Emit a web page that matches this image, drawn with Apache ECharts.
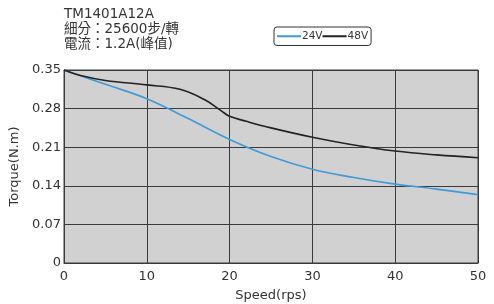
<!DOCTYPE html>
<html><head><meta charset="utf-8">
<script src="https://cdn.jsdelivr.net/npm/echarts@6/dist/echarts.min.js"></script>
<style>html,body{margin:0;padding:0;background:#fff}#c{width:494px;height:304px}</style>
</head><body><div id="c"></div>
<script>
const titleLines = ['TM1401A12A', '細分：25600步/轉', '電流：1.2A(峰值)'];
const seriesNames = ['24V', '48V'];
const xTicks = [0, 10, 20, 30, 40, 50];
const yTicks = ['0', '0.07', '0.14', '0.21', '0.28', '0.35'];
const speed24 = [0, 5, 10, 15, 20, 25, 30, 35, 40, 45, 50];
const torque24 = [0.35, 0.324, 0.298, 0.262, 0.224, 0.193, 0.170, 0.155, 0.143, 0.134, 0.124];
const speed48 = [0, 2, 5, 10, 14, 17, 19, 20, 22, 25, 30, 35, 40, 45, 50];
const torque48 = [0.35, 0.340, 0.331, 0.323, 0.315, 0.296, 0.276, 0.266, 0.257, 0.245, 0.228, 0.214, 0.203, 0.196, 0.191];

const chart = echarts.init(document.getElementById('c'));
const font = 'DejaVu Sans, Noto Sans CJK TC, sans-serif';
chart.setOption({
  animation: false,
  textStyle: {fontFamily: font},
  title: {
    text: titleLines.join('\n'),
    left: 64, top: 7, padding: 0,
    textStyle: {fontSize: 13.5, fontWeight: 'normal', color: '#333', lineHeight: 15, fontFamily: font}
  },
  legend: {
    data: seriesNames,
    left: 274, top: 27,
    itemWidth: 24, itemHeight: 2, itemGap: 0,
    padding: [4, 3, 4, 3],
    borderColor: '#333', borderWidth: 1, borderRadius: 3,
    icon: 'rect',
    textStyle: {fontSize: 10.5, color: '#333', padding: [0, 0, 0, -4], fontFamily: font}
  },
  grid: {
    left: 64, right: 16, top: 70, bottom: 41,
    containLabel: false, outerBoundsMode: 'none',
    show: true, backgroundColor: '#d1d1d1', borderColor: '#3a3a3a', borderWidth: 1
  },
  xAxis: {
    type: 'value', min: 0, max: 50, interval: 10,
    name: 'Speed(rps)', nameLocation: 'middle', nameGap: 26,
    nameTextStyle: {fontSize: 13, color: '#333', fontFamily: font},
    axisLine: {show: true, lineStyle: {color: '#3a3a3a'}},
    axisTick: {show: false},
    axisLabel: {fontSize: 13, color: '#333', margin: 7, fontFamily: font,
      formatter: v => { const i = xTicks.indexOf(v); return i >= 0 ? String(xTicks[i]) : ''; }},
    splitLine: {show: true, lineStyle: {color: '#3a3a3a', width: 1}}
  },
  yAxis: {
    type: 'value', min: 0, max: 0.35, interval: 0.07,
    name: 'Torque(N.m)', nameLocation: 'middle', nameGap: 37, nameRotate: 90,
    nameTextStyle: {fontSize: 13, color: '#333', fontFamily: font},
    axisLine: {show: true, lineStyle: {color: '#3a3a3a'}},
    axisTick: {show: false},
    axisLabel: {fontSize: 13, color: '#333', margin: 3, fontFamily: font,
      formatter: v => yTicks[Math.round(v / 0.07)] || ''},
    splitLine: {show: true, lineStyle: {color: '#3a3a3a', width: 1}}
  },
  series: [
    {name: seriesNames[0], type: 'line', smooth: 0.4, symbol: 'none',
     lineStyle: {color: '#3f9bd6', width: 1.6}, itemStyle: {color: '#3f9bd6'},
     data: speed24.map((s, i) => [s, torque24[i]])},
    {name: seriesNames[1], type: 'line', smooth: 0.4, symbol: 'none',
     lineStyle: {color: '#222', width: 1.6}, itemStyle: {color: '#222'},
     data: speed48.map((s, i) => [s, torque48[i]])}
  ]
});
</script></body></html>
